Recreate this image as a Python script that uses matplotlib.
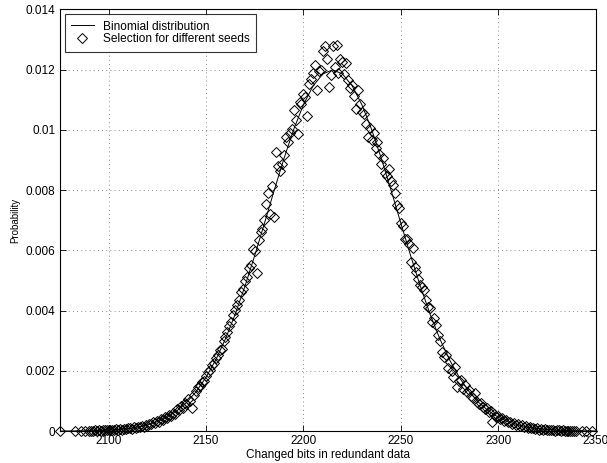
import numpy as np
import matplotlib
matplotlib.use("Agg")
import matplotlib.pyplot as plt

plt.rcParams['font.family'] = ['Liberation Sans', 'DejaVu Sans']

# binomial curve, read every 5 bits
binom_x = np.arange(2075, 2351, 5)
binom_p = [0.0000018, 0.0000033, 0.0000059, 0.0000104, 0.0000180, 0.0000306, 0.0000509, 0.0000826,
           0.000131, 0.000204, 0.000309, 0.000459, 0.000667, 0.000946, 0.001312, 0.001780,
           0.002360, 0.003060, 0.003878, 0.004806, 0.005823, 0.006896, 0.007987, 0.009042,
           0.010009, 0.010832, 0.011461, 0.011855, 0.011990, 0.011855, 0.011461, 0.010832,
           0.010009, 0.009042, 0.007987, 0.006896, 0.005823, 0.004806, 0.003878, 0.003060,
           0.002360, 0.001780, 0.001312, 0.000946, 0.000667, 0.000459, 0.000309, 0.000204,
           0.000131, 0.0000826, 0.0000509, 0.0000306, 0.0000180, 0.0000104, 0.0000059, 0.0000033]

# selection for different seeds
seed_x = [2075, 2083, 2086, 2088, 2090] + list(range(2091, 2341)) + [2343, 2345, 2348]
seed_p = [0.0, 0.00001, 0.00000, 0.00001, 0.00001,
          # 2091
          0.00001, 0.00001, 0.00002, 0.00000, 0.00003, 0.00001, 0.00002, 0.00004, 0.00002, 0.00003,
          0.00005, 0.00002, 0.00004, 0.00006, 0.00004, 0.00007, 0.00005, 0.00008, 0.00006, 0.00009,
          0.00011, 0.00008, 0.00012, 0.00010, 0.00015, 0.00012, 0.00017, 0.00014, 0.00021, 0.00018,
          0.00025, 0.00022, 0.00030, 0.00027, 0.00033, 0.00031, 0.00040, 0.00037, 0.00046, 0.00044,
          # 2131
          0.00052, 0.00051, 0.00061, 0.00058, 0.00072, 0.00069, 0.00083, 0.00078, 0.00092, 0.00090,
          0.00108, 0.00100, 0.00076, 0.00119, 0.00134, 0.00145, 0.00150, 0.00163, 0.00166, 0.00182,
          0.00196, 0.00204, 0.00220, 0.00226, 0.00243, 0.00251, 0.00270, 0.00274, 0.00300, 0.00312,
          0.00328, 0.00350, 0.00362, 0.00385, 0.00401, 0.00418, 0.00436, 0.00460, 0.00472, 0.00498,
          # 2171
          0.00512, 0.00541, 0.00552, 0.00605, 0.00596, 0.00523, 0.00634, 0.00661, 0.00672, 0.00701,
          0.00755, 0.00789, 0.00722, 0.00812, 0.00711, 0.00926, 0.00880, 0.00862, 0.00888, 0.00916,
          0.00976, 0.00958, 0.00990, 0.01002, 0.01065, 0.01032, 0.00987, 0.01092, 0.01085, 0.01120,
          0.01108, 0.01045, 0.01153, 0.01168, 0.01187, 0.01214, 0.01131, 0.01195, 0.01200, 0.01262,
          # 2211
          0.01277, 0.01236, 0.01142, 0.01181, 0.01277, 0.01210, 0.01280, 0.01190, 0.01236, 0.01225,
          0.01186, 0.01220, 0.01164, 0.01140, 0.01148, 0.01112, 0.01070, 0.01131, 0.01085, 0.01060,
          0.01052, 0.01018, 0.00976, 0.01005, 0.00965, 0.00990, 0.00938, 0.00960, 0.00921, 0.00888,
          0.00905, 0.00855, 0.00845, 0.00871, 0.00830, 0.00816, 0.00789, 0.00750, 0.00739, 0.00689,
          # 2251
          0.00680, 0.00639, 0.00639, 0.00620, 0.00562, 0.00606, 0.00545, 0.00528, 0.00506, 0.00484,
          0.00479, 0.00468, 0.00435, 0.00412, 0.00407, 0.00363, 0.00375, 0.00352, 0.00318, 0.00300,
          0.00263, 0.00246, 0.00252, 0.00208, 0.00230, 0.00200, 0.00180, 0.00213, 0.00147, 0.00165,
          0.00169, 0.00140, 0.00153, 0.00128, 0.00136, 0.00118, 0.00110, 0.00125, 0.00098, 0.00090,
          # 2291
          0.00094, 0.00080, 0.00072, 0.00075, 0.00063, 0.00066, 0.00031, 0.00055, 0.00047, 0.00050,
          0.00040, 0.00042, 0.00033, 0.00036, 0.00029, 0.00031, 0.00024, 0.00027, 0.00020, 0.00022,
          0.00016, 0.00019, 0.00014, 0.00016, 0.00011, 0.00013, 0.00009, 0.00011, 0.00007, 0.00009,
          0.00005, 0.00007, 0.00004, 0.00006, 0.00003, 0.00005, 0.00002, 0.00004, 0.00001, 0.00003,
          # 2331
          0.00002, 0.00001, 0.00002, 0.00000, 0.00001, 0.00000, 0.00001, 0.00000, 0.00001, 0.00000,
          0.0, 0.0, 0.0]

x_ticks = [2100, 2150, 2200, 2250, 2300, 2350]
y_ticks = [0, 0.002, 0.004, 0.006, 0.008, 0.010, 0.012, 0.014]
y_labels = ['0', '0.002', '0.004', '0.006', '0.008', '0.01', '0.012', '0.014']

fig = plt.figure(figsize=(6.07, 4.63), dpi=100)
ax = fig.add_axes([0.0985, 0.069, 0.883, 0.911])

ax.plot(binom_x, binom_p, '-', color='black', lw=0.7, label='Binomial distribution')
ax.plot(seed_x, seed_p, 'D', mfc='none', mec='black', ms=5.3, mew=0.7, ls='none',
        label='Selection for different seeds', clip_on=False)

ax.set_xlim(2075, 2350)
ax.set_ylim(0, 0.014)
ax.set_xticks(x_ticks)
ax.set_yticks(y_ticks)
ax.set_yticklabels(y_labels)
ax.tick_params(direction='in', top=True, right=True, length=4, width=0.6, labelsize=8.5, pad=3)
ax.grid(True, ls=(0, (1, 4)), color='black', lw=0.6, alpha=0.6)
for s in ax.spines.values():
    s.set_linewidth(0.8)

ax.set_xlabel('Changed bits in redundant data', fontsize=8.5, labelpad=1)
ax.set_ylabel('Probability', fontsize=7, labelpad=4)

leg = ax.legend(loc='upper left', fontsize=8.6, frameon=True, fancybox=False,
                edgecolor='black', borderaxespad=0.4, handlelength=1.9, handletextpad=0.75,
                borderpad=0.55, labelspacing=0.05)
leg.get_frame().set_linewidth(0.8)

fig.savefig('out.png', dpi=100)
